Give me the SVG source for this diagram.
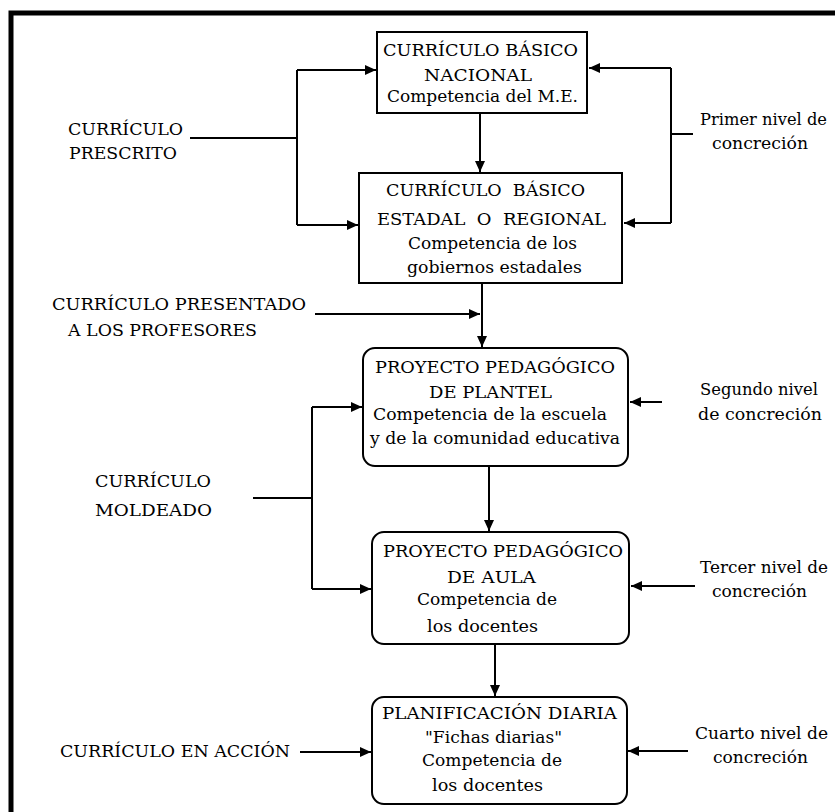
<svg xmlns="http://www.w3.org/2000/svg" width="835" height="812" viewBox="0 0 835 812">
  <style>
    .box { fill: #fff; stroke: #000; stroke-width: 2; }
    .line { fill: none; stroke: #000; stroke-width: 2; }
    .arrow { fill: none; stroke: #000; stroke-width: 2; marker-end: url(#head); }
  </style>
  <defs>
    <marker id="head" markerUnits="userSpaceOnUse" markerWidth="12" markerHeight="10" refX="11" refY="5" orient="auto">
      <path d="M0,0 L11,5 L0,10 Z" fill="#000"/>
    </marker>
  </defs>

  <rect x="0" y="0" width="835" height="812" fill="#fff"/>

  <!-- outer frame (continues past the right and bottom edges) -->
  <path d="M11 812 V13 H835" fill="none" stroke="#000" stroke-width="5"/>

  <g id="connectors">
    <!-- prescribed curriculum bracket -->
    <path class="line" d="M190 138 H297"/>
    <path class="line" d="M297 70 V225"/>
    <path class="arrow" d="M297 70 H376"/>
    <path class="arrow" d="M297 225 H358"/>
    <!-- first level bracket -->
    <path class="line" d="M693 134 H671"/>
    <path class="line" d="M671 68 V223"/>
    <path class="arrow" d="M671 68 H589"/>
    <path class="arrow" d="M671 223 H624"/>
    <!-- vertical flow -->
    <path class="arrow" d="M480 113 V172"/>
    <path class="arrow" d="M482 283 V347"/>
    <path class="arrow" d="M315 314 H480"/>
    <path class="arrow" d="M489 466 V531"/>
    <path class="arrow" d="M495 644 V696"/>
    <!-- shaped curriculum bracket -->
    <path class="line" d="M253 498 H312"/>
    <path class="line" d="M312 407 V589"/>
    <path class="arrow" d="M312 407 H362"/>
    <path class="arrow" d="M312 589 H371"/>
    <!-- right-hand level arrows -->
    <path class="arrow" d="M662 402 H630"/>
    <path class="arrow" d="M695 586 H631"/>
    <path class="arrow" d="M688 751 H628"/>
    <!-- curriculum in action -->
    <path class="arrow" d="M300 752 H371"/>
  </g>

  <g font-family="'DejaVu Serif', 'Liberation Serif', serif" font-size="17" fill="#000">
  <g id="basico-nacional">
    <rect class="box" x="377" y="32" width="210" height="81"/>
    <text x="383" y="56" textLength="195" lengthAdjust="spacingAndGlyphs">CURRÍCULO BÁSICO</text>
    <text x="424" y="81" textLength="108" lengthAdjust="spacingAndGlyphs">NACIONAL</text>
    <text x="387" y="102" textLength="191" lengthAdjust="spacingAndGlyphs">Competencia del M.E.</text>
  </g>

  <g id="basico-estadal">
    <rect class="box" x="359" y="173" width="263" height="110"/>
    <text x="386" y="196" textLength="199" lengthAdjust="spacingAndGlyphs" xml:space="preserve">CURRÍCULO  BÁSICO</text>
    <text x="377" y="225" textLength="229" lengthAdjust="spacingAndGlyphs" xml:space="preserve">ESTADAL  O  REGIONAL</text>
    <text x="408" y="249" textLength="169" lengthAdjust="spacingAndGlyphs">Competencia de los</text>
    <text x="407" y="273" textLength="175" lengthAdjust="spacingAndGlyphs">gobiernos estadales</text>
  </g>

  <g id="proyecto-plantel">
    <rect class="box" x="363" y="348" width="265" height="118" rx="12"/>
    <text x="375" y="373" textLength="240" lengthAdjust="spacingAndGlyphs">PROYECTO PEDAGÓGICO</text>
    <text x="429" y="398" textLength="123" lengthAdjust="spacingAndGlyphs">DE PLANTEL</text>
    <text x="373" y="420" textLength="234" lengthAdjust="spacingAndGlyphs">Competencia de la escuela</text>
    <text x="370" y="444" textLength="250" lengthAdjust="spacingAndGlyphs">y de la comunidad educativa</text>
  </g>

  <g id="proyecto-aula">
    <rect class="box" x="372" y="532" width="257" height="112" rx="12"/>
    <text x="383" y="557" textLength="240" lengthAdjust="spacingAndGlyphs">PROYECTO PEDAGÓGICO</text>
    <text x="447" y="583" textLength="89" lengthAdjust="spacingAndGlyphs">DE AULA</text>
    <text x="417" y="605" textLength="140" lengthAdjust="spacingAndGlyphs">Competencia de</text>
    <text x="427" y="632" textLength="111" lengthAdjust="spacingAndGlyphs">los docentes</text>
  </g>

  <g id="planificacion-diaria">
    <rect class="box" x="372" y="697" width="255" height="107" rx="12"/>
    <text x="382" y="719" textLength="235" lengthAdjust="spacingAndGlyphs">PLANIFICACIÓN DIARIA</text>
    <text x="425" y="743" textLength="137" lengthAdjust="spacingAndGlyphs">"Fichas diarias"</text>
    <text x="422" y="766" textLength="140" lengthAdjust="spacingAndGlyphs">Competencia de</text>
    <text x="432" y="791" textLength="111" lengthAdjust="spacingAndGlyphs">los docentes</text>
  </g>

  <g id="curriculo-prescrito">
    <text x="68" y="135" textLength="115" lengthAdjust="spacingAndGlyphs">CURRÍCULO</text>
    <text x="69" y="159" textLength="108" lengthAdjust="spacingAndGlyphs">PRESCRITO</text>
  </g>

  <g id="curriculo-presentado">
    <text x="52" y="310" textLength="254" lengthAdjust="spacingAndGlyphs">CURRÍCULO PRESENTADO</text>
    <text x="68" y="336" textLength="189" lengthAdjust="spacingAndGlyphs">A LOS PROFESORES</text>
  </g>

  <g id="curriculo-moldeado">
    <text x="95" y="487" textLength="116" lengthAdjust="spacingAndGlyphs">CURRÍCULO</text>
    <text x="95" y="516" textLength="117" lengthAdjust="spacingAndGlyphs">MOLDEADO</text>
  </g>

  <g id="curriculo-accion">
    <text x="60" y="757" textLength="230" lengthAdjust="spacingAndGlyphs">CURRÍCULO EN ACCIÓN</text>
  </g>

  <g id="primer-nivel">
    <text x="700" y="125" textLength="127" lengthAdjust="spacingAndGlyphs">Primer nivel de</text>
    <text x="712" y="149" textLength="96" lengthAdjust="spacingAndGlyphs">concreción</text>
  </g>

  <g id="segundo-nivel">
    <text x="700" y="395" textLength="118" lengthAdjust="spacingAndGlyphs">Segundo nivel</text>
    <text x="698" y="420" textLength="124" lengthAdjust="spacingAndGlyphs">de concreción</text>
  </g>

  <g id="tercer-nivel">
    <text x="700" y="573" textLength="128" lengthAdjust="spacingAndGlyphs">Tercer nivel de</text>
    <text x="712" y="597" textLength="95" lengthAdjust="spacingAndGlyphs">concreción</text>
  </g>

  <g id="cuarto-nivel">
    <text x="695" y="739" textLength="133" lengthAdjust="spacingAndGlyphs">Cuarto nivel de</text>
    <text x="713" y="763" textLength="95" lengthAdjust="spacingAndGlyphs">concreción</text>
  </g>
  </g>
</svg>
